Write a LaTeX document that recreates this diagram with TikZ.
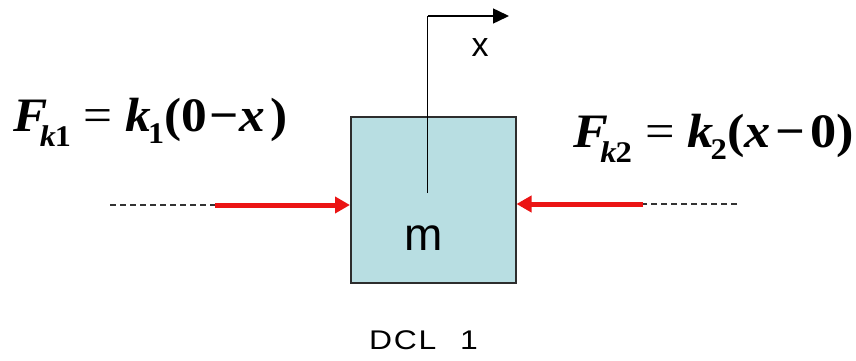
\documentclass[tikz,border=0pt]{standalone}
\usepackage{fontspec}
\setmainfont{Liberation Serif}
\setsansfont{Liberation Sans}
\usetikzlibrary{arrows.meta}
\definecolor{boxfill}{RGB}{184,222,226}
\definecolor{boxline}{RGB}{45,45,45}
\definecolor{forcered}{RGB}{235,20,20}
\newcommand{\eqsz}{\fontsize{48}{48}\selectfont}
\newcommand{\subsz}{\fontsize{30}{30}\selectfont}
\newcommand{\bi}[1]{\textbf{\textit{#1}}}
\tikzset{
  massbox/.style={draw=boxline, line width=1.5pt, fill=boxfill, minimum width=165pt, minimum height=166pt, inner sep=0pt},
  eqtext/.style={inner sep=0pt, anchor=base west, font=\eqsz},
  sanslabel/.style={inner sep=0pt, font=\sffamily},
  force/.style={draw=forcered, line width=5pt, -{Triangle[length=15pt,width=16pt]}},
  springline/.style={draw=black!80, line width=1.3pt, dash pattern=on 6pt off 4pt},
  axisline/.style={draw=black, line width=1.5pt},
}
\begin{document}
\begin{tikzpicture}[x=1pt,y=-1pt]
\useasboundingbox (0,0) rectangle (856,361);
\fill[white] (0,0) rectangle (856,361);
% mass
\node[massbox, anchor=north west] (box) at (350,116) {};
\node[sanslabel, font=\sffamily\fontsize{46}{46}\selectfont] (m) at (424,238) {m};
% coordinate axis
\coordinate (xorig) at (427.5,193);
\coordinate (xcorner) at (427.5,16);
\coordinate (xend) at (509,16);
\draw[axisline] (xorig) -- (xcorner);
\draw[axisline, -{Triangle[length=16pt,width=15pt]}] (xcorner) -- (xend);
\node[sanslabel, font=\sffamily\fontsize{34}{34}\selectfont] (xlab) at (480,48) {x};
% left force
\coordinate (ls) at (110,205);
\coordinate (lm) at (215,205);
\draw[springline] (ls) -- (lm);
\draw[force] (lm) -- (box.west |- lm);
% right force
\coordinate (rs) at (737,204);
\coordinate (rm) at (643,204);
\draw[springline] (rs) -- (rm);
\draw[force] (rm) -- (box.east |- rm);
% equations
\node[eqtext] (eq1) at (13,131) {\scalebox{1.07}[1.0]{\bi{F}\kern-0.15em\raisebox{-0.33em}{\subsz\bi{k}\kern-0.03em\textbf{1}}\kern0.25em=\kern0.25em\bi{k}\kern-0.06em\raisebox{-0.27em}{\subsz\textbf{1}}\textbf{(0}\kern0.05em\textbf{−}\kern0.02em\bi{x}\kern0.1em\textbf{)}}};
\node[eqtext] (eq2) at (573,147) {\scalebox{1.09}[1.0]{\bi{F}\kern-0.15em\raisebox{-0.33em}{\subsz\bi{k}\kern-0.03em\textbf{2}}\kern0.25em=\kern0.25em\bi{k}\kern-0.06em\raisebox{-0.27em}{\subsz\textbf{2}}\textbf{(}\bi{x}\kern0.1em\textbf{−}\kern0.1em\textbf{0)}}};
% caption
\node[sanslabel, font=\sffamily\fontsize{27}{27}\selectfont, anchor=base west] (cap) at (369,349) {\scalebox{1.18}[1.0]{D\kern1.5pt C\kern1.5pt L\hspace{0.74em}1}};
\end{tikzpicture}
\end{document}
